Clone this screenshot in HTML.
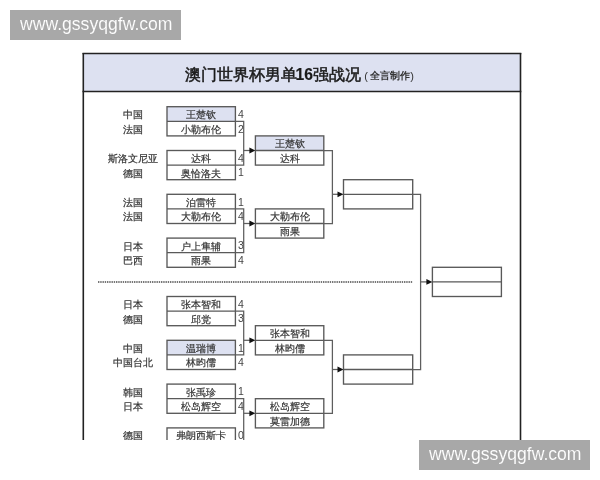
<!DOCTYPE html>
<html><head><meta charset="utf-8">
<style>
html,body{margin:0;padding:0;background:#fff;}
body{width:600px;height:480px;position:relative;overflow:hidden;filter:blur(0.4px);font-family:"Liberation Sans", sans-serif;}
.wm{position:absolute;width:171px;height:30px;background:#a8a8a8;color:#fff;font-size:17.6px;line-height:29px;box-sizing:border-box;padding-left:10px;white-space:nowrap;-webkit-text-stroke:0.1px #a8a8a8;}
svg{position:absolute;left:0;top:0;}
svg text{font-family:"Liberation Sans", sans-serif;}
</style></head>
<body>
<svg width="600" height="480" viewBox="0 0 600 480">
<defs><clipPath id="c"><rect x="0" y="0" width="600" height="440"/></clipPath></defs>
<g clip-path="url(#c)">
<rect x="83.5" y="53.5" width="437" height="38" fill="#dde1f1"/>
<line x1="83.3" y1="53" x2="83.3" y2="440" stroke="#222" stroke-width="1.6"/>
<line x1="520.5" y1="53" x2="520.5" y2="440" stroke="#222" stroke-width="1.6"/>
<line x1="82.5" y1="53.4" x2="521.3" y2="53.4" stroke="#222" stroke-width="1.5"/>
<line x1="82.5" y1="91.5" x2="521.3" y2="91.5" stroke="#222" stroke-width="1.5"/>
<text x="185" y="79.5" font-size="15.6" font-weight="normal" fill="#1a1a1a" stroke="#1a1a1a" stroke-width="0.5">澳门世界杯男单<tspan dx="-1.5" font-size="15.6" stroke-width="0.2" font-weight="bold">16</tspan><tspan dx="0.6">强战况</tspan></text>
<text x="364.3" y="79.6" font-size="11" fill="#333">(</text>
<text x="369.5" y="79.3" font-size="9.8" font-weight="600" fill="#333">全言制作</text>
<text x="410.3" y="79.6" font-size="11" fill="#333">)</text>
<rect x="167.0" y="106.7" width="68.4" height="14.6" fill="#dde1f1"/>
<rect x="167.0" y="106.7" width="68.4" height="29.2" fill="none" stroke="#595959" stroke-width="1.35"/>
<line x1="167.0" y1="121.3" x2="235.4" y2="121.3" stroke="#595959" stroke-width="1.3" />
<text x="201.2" y="118.2" font-size="10.2" text-anchor="middle" fill="#333" stroke="#333" stroke-width="0.2" font-weight="normal">王楚钦</text>
<text x="132.5" y="118.2" font-size="10.2" text-anchor="middle" fill="#333" stroke="#333" stroke-width="0.2" font-weight="normal">中国</text>
<text x="238" y="117.9" font-size="10.5" fill="#444">4</text>
<text x="201.2" y="132.8" font-size="10.2" text-anchor="middle" fill="#333" stroke="#333" stroke-width="0.2" font-weight="normal">小勒布伦</text>
<text x="132.5" y="132.8" font-size="10.2" text-anchor="middle" fill="#333" stroke="#333" stroke-width="0.2" font-weight="normal">法国</text>
<text x="238" y="132.5" font-size="10.5" fill="#444">2</text>
<rect x="167.0" y="150.5" width="68.4" height="29.2" fill="none" stroke="#595959" stroke-width="1.35"/>
<line x1="167.0" y1="165.1" x2="235.4" y2="165.1" stroke="#595959" stroke-width="1.3" />
<text x="201.2" y="162.0" font-size="10.2" text-anchor="middle" fill="#333" stroke="#333" stroke-width="0.2" font-weight="normal">达科</text>
<text x="132.5" y="162.0" font-size="10.2" text-anchor="middle" fill="#333" stroke="#333" stroke-width="0.2" font-weight="normal">斯洛文尼亚</text>
<text x="238" y="161.7" font-size="10.5" fill="#444">4</text>
<text x="201.2" y="176.6" font-size="10.2" text-anchor="middle" fill="#333" stroke="#333" stroke-width="0.2" font-weight="normal">奥恰洛夫</text>
<text x="132.5" y="176.6" font-size="10.2" text-anchor="middle" fill="#333" stroke="#333" stroke-width="0.2" font-weight="normal">德国</text>
<text x="238" y="176.3" font-size="10.5" fill="#444">1</text>
<rect x="167.0" y="194.3" width="68.4" height="29.2" fill="none" stroke="#595959" stroke-width="1.35"/>
<line x1="167.0" y1="208.9" x2="235.4" y2="208.9" stroke="#595959" stroke-width="1.3" />
<text x="201.2" y="205.8" font-size="10.2" text-anchor="middle" fill="#333" stroke="#333" stroke-width="0.2" font-weight="normal">泊雷特</text>
<text x="132.5" y="205.8" font-size="10.2" text-anchor="middle" fill="#333" stroke="#333" stroke-width="0.2" font-weight="normal">法国</text>
<text x="238" y="205.5" font-size="10.5" fill="#444">1</text>
<text x="201.2" y="220.4" font-size="10.2" text-anchor="middle" fill="#333" stroke="#333" stroke-width="0.2" font-weight="normal">大勒布伦</text>
<text x="132.5" y="220.4" font-size="10.2" text-anchor="middle" fill="#333" stroke="#333" stroke-width="0.2" font-weight="normal">法国</text>
<text x="238" y="220.1" font-size="10.5" fill="#444">4</text>
<rect x="167.0" y="238.1" width="68.4" height="29.2" fill="none" stroke="#595959" stroke-width="1.35"/>
<line x1="167.0" y1="252.7" x2="235.4" y2="252.7" stroke="#595959" stroke-width="1.3" />
<text x="201.2" y="249.6" font-size="10.2" text-anchor="middle" fill="#333" stroke="#333" stroke-width="0.2" font-weight="normal">户上隼辅</text>
<text x="132.5" y="249.6" font-size="10.2" text-anchor="middle" fill="#333" stroke="#333" stroke-width="0.2" font-weight="normal">日本</text>
<text x="238" y="249.3" font-size="10.5" fill="#444">3</text>
<text x="201.2" y="264.2" font-size="10.2" text-anchor="middle" fill="#333" stroke="#333" stroke-width="0.2" font-weight="normal">雨果</text>
<text x="132.5" y="264.2" font-size="10.2" text-anchor="middle" fill="#333" stroke="#333" stroke-width="0.2" font-weight="normal">巴西</text>
<text x="238" y="263.9" font-size="10.5" fill="#444">4</text>
<rect x="167.0" y="296.5" width="68.4" height="29.2" fill="none" stroke="#595959" stroke-width="1.35"/>
<line x1="167.0" y1="311.1" x2="235.4" y2="311.1" stroke="#595959" stroke-width="1.3" />
<text x="201.2" y="308.0" font-size="10.2" text-anchor="middle" fill="#333" stroke="#333" stroke-width="0.2" font-weight="normal">张本智和</text>
<text x="132.5" y="308.0" font-size="10.2" text-anchor="middle" fill="#333" stroke="#333" stroke-width="0.2" font-weight="normal">日本</text>
<text x="238" y="307.7" font-size="10.5" fill="#444">4</text>
<text x="201.2" y="322.6" font-size="10.2" text-anchor="middle" fill="#333" stroke="#333" stroke-width="0.2" font-weight="normal">邱党</text>
<text x="132.5" y="322.6" font-size="10.2" text-anchor="middle" fill="#333" stroke="#333" stroke-width="0.2" font-weight="normal">德国</text>
<text x="238" y="322.3" font-size="10.5" fill="#444">3</text>
<rect x="167.0" y="340.3" width="68.4" height="14.6" fill="#dde1f1"/>
<rect x="167.0" y="340.3" width="68.4" height="29.2" fill="none" stroke="#595959" stroke-width="1.35"/>
<line x1="167.0" y1="354.9" x2="235.4" y2="354.9" stroke="#595959" stroke-width="1.3" />
<text x="201.2" y="351.8" font-size="10.2" text-anchor="middle" fill="#333" stroke="#333" stroke-width="0.2" font-weight="normal">温瑞博</text>
<text x="132.5" y="351.8" font-size="10.2" text-anchor="middle" fill="#333" stroke="#333" stroke-width="0.2" font-weight="normal">中国</text>
<text x="238" y="351.5" font-size="10.5" fill="#444">1</text>
<text x="201.2" y="366.4" font-size="10.2" text-anchor="middle" fill="#333" stroke="#333" stroke-width="0.2" font-weight="normal">林昀儒</text>
<text x="132.5" y="366.4" font-size="10.2" text-anchor="middle" fill="#333" stroke="#333" stroke-width="0.2" font-weight="normal">中国台北</text>
<text x="238" y="366.1" font-size="10.5" fill="#444">4</text>
<rect x="167.0" y="384.1" width="68.4" height="29.2" fill="none" stroke="#595959" stroke-width="1.35"/>
<line x1="167.0" y1="398.7" x2="235.4" y2="398.7" stroke="#595959" stroke-width="1.3" />
<text x="201.2" y="395.6" font-size="10.2" text-anchor="middle" fill="#333" stroke="#333" stroke-width="0.2" font-weight="normal">张禹珍</text>
<text x="132.5" y="395.6" font-size="10.2" text-anchor="middle" fill="#333" stroke="#333" stroke-width="0.2" font-weight="normal">韩国</text>
<text x="238" y="395.3" font-size="10.5" fill="#444">1</text>
<text x="201.2" y="410.2" font-size="10.2" text-anchor="middle" fill="#333" stroke="#333" stroke-width="0.2" font-weight="normal">松岛辉空</text>
<text x="132.5" y="410.2" font-size="10.2" text-anchor="middle" fill="#333" stroke="#333" stroke-width="0.2" font-weight="normal">日本</text>
<text x="238" y="409.9" font-size="10.5" fill="#444">4</text>
<rect x="167.0" y="427.9" width="68.4" height="29.2" fill="none" stroke="#595959" stroke-width="1.35"/>
<line x1="167.0" y1="442.5" x2="235.4" y2="442.5" stroke="#595959" stroke-width="1.3" />
<text x="201.2" y="439.4" font-size="10.2" text-anchor="middle" fill="#333" stroke="#333" stroke-width="0.2" font-weight="normal">弗朗西斯卡</text>
<text x="132.5" y="439.4" font-size="10.2" text-anchor="middle" fill="#333" stroke="#333" stroke-width="0.2" font-weight="normal">德国</text>
<text x="238" y="439.1" font-size="10.5" fill="#444">0</text>
<polyline points="235.4,121.3 243.7,121.3 243.7,165.1 235.4,165.1" fill="none" stroke="#5e5e5e" stroke-width="1.25"/>
<polyline points="235.4,208.9 243.7,208.9 243.7,252.7 235.4,252.7" fill="none" stroke="#5e5e5e" stroke-width="1.25"/>
<polyline points="235.4,311.1 243.7,311.1 243.7,354.9 235.4,354.9" fill="none" stroke="#5e5e5e" stroke-width="1.25"/>
<polyline points="235.4,398.7 243.7,398.7 243.7,442.5 235.4,442.5" fill="none" stroke="#5e5e5e" stroke-width="1.25"/>
<rect x="255.4" y="135.9" width="68.4" height="14.6" fill="#dde1f1"/>
<rect x="255.4" y="135.9" width="68.4" height="29.2" fill="none" stroke="#595959" stroke-width="1.35"/>
<line x1="255.4" y1="150.5" x2="323.8" y2="150.5" stroke="#595959" stroke-width="1.3" />
<text x="289.6" y="147.4" font-size="10.2" text-anchor="middle" fill="#333" stroke="#333" stroke-width="0.2" font-weight="normal">王楚钦</text>
<text x="289.6" y="162.0" font-size="10.2" text-anchor="middle" fill="#333" stroke="#333" stroke-width="0.2" font-weight="normal">达科</text>
<line x1="243.7" y1="150.5" x2="251.4" y2="150.5" stroke="#5e5e5e" stroke-width="1.25" />
<path d="M249.4,147.6 L255.4,150.5 L249.4,153.4 Z" fill="#111"/>
<rect x="255.4" y="208.9" width="68.4" height="29.2" fill="none" stroke="#595959" stroke-width="1.35"/>
<line x1="255.4" y1="223.5" x2="323.8" y2="223.5" stroke="#595959" stroke-width="1.3" />
<text x="289.6" y="220.4" font-size="10.2" text-anchor="middle" fill="#333" stroke="#333" stroke-width="0.2" font-weight="normal">大勒布伦</text>
<text x="289.6" y="235.0" font-size="10.2" text-anchor="middle" fill="#333" stroke="#333" stroke-width="0.2" font-weight="normal">雨果</text>
<line x1="243.7" y1="223.5" x2="251.4" y2="223.5" stroke="#5e5e5e" stroke-width="1.25" />
<path d="M249.4,220.6 L255.4,223.5 L249.4,226.4 Z" fill="#111"/>
<rect x="255.4" y="325.7" width="68.4" height="29.2" fill="none" stroke="#595959" stroke-width="1.35"/>
<line x1="255.4" y1="340.3" x2="323.8" y2="340.3" stroke="#595959" stroke-width="1.3" />
<text x="289.6" y="337.2" font-size="10.2" text-anchor="middle" fill="#333" stroke="#333" stroke-width="0.2" font-weight="normal">张本智和</text>
<text x="289.6" y="351.8" font-size="10.2" text-anchor="middle" fill="#333" stroke="#333" stroke-width="0.2" font-weight="normal">林昀儒</text>
<line x1="243.7" y1="340.3" x2="251.4" y2="340.3" stroke="#5e5e5e" stroke-width="1.25" />
<path d="M249.4,337.4 L255.4,340.3 L249.4,343.2 Z" fill="#111"/>
<rect x="255.4" y="398.7" width="68.4" height="29.2" fill="none" stroke="#595959" stroke-width="1.35"/>
<line x1="255.4" y1="413.3" x2="323.8" y2="413.3" stroke="#595959" stroke-width="1.3" />
<text x="289.6" y="410.2" font-size="10.2" text-anchor="middle" fill="#333" stroke="#333" stroke-width="0.2" font-weight="normal">松岛辉空</text>
<text x="289.6" y="424.8" font-size="10.2" text-anchor="middle" fill="#333" stroke="#333" stroke-width="0.2" font-weight="normal">莫雷加德</text>
<line x1="243.7" y1="413.3" x2="251.4" y2="413.3" stroke="#5e5e5e" stroke-width="1.25" />
<path d="M249.4,410.4 L255.4,413.3 L249.4,416.2 Z" fill="#111"/>
<polyline points="323.8,150.5 332.4,150.5 332.4,223.5 323.8,223.5" fill="none" stroke="#5e5e5e" stroke-width="1.25"/>
<polyline points="323.8,340.3 332.4,340.3 332.4,413.3 323.8,413.3" fill="none" stroke="#5e5e5e" stroke-width="1.25"/>
<rect x="343.5" y="179.7" width="69.2" height="29.2" fill="none" stroke="#595959" stroke-width="1.35"/>
<line x1="343.5" y1="194.3" x2="412.7" y2="194.3" stroke="#595959" stroke-width="1.3" />
<line x1="332.4" y1="194.3" x2="339.5" y2="194.3" stroke="#5e5e5e" stroke-width="1.25" />
<path d="M337.5,191.4 L343.5,194.3 L337.5,197.2 Z" fill="#111"/>
<rect x="343.5" y="354.9" width="69.2" height="29.2" fill="none" stroke="#595959" stroke-width="1.35"/>
<line x1="343.5" y1="369.5" x2="412.7" y2="369.5" stroke="#595959" stroke-width="1.3" />
<line x1="332.4" y1="369.5" x2="339.5" y2="369.5" stroke="#5e5e5e" stroke-width="1.25" />
<path d="M337.5,366.6 L343.5,369.5 L337.5,372.4 Z" fill="#111"/>
<polyline points="412.7,194.3 420.6,194.3 420.6,369.5 412.7,369.5" fill="none" stroke="#5e5e5e" stroke-width="1.25"/>
<rect x="432.4" y="267.3" width="69.0" height="29.2" fill="none" stroke="#595959" stroke-width="1.35"/>
<line x1="432.4" y1="281.9" x2="501.4" y2="281.9" stroke="#595959" stroke-width="1.3" />
<line x1="420.6" y1="281.9" x2="428.4" y2="281.9" stroke="#5e5e5e" stroke-width="1.25" />
<path d="M426.4,279.0 L432.4,281.9 L426.4,284.8 Z" fill="#111"/>
<line x1="98" y1="282.1" x2="412.6" y2="282.1" stroke="#4a4a4a" stroke-width="1.5" stroke-dasharray="1.4 0.85"/>
</g>
</svg>
<div class="wm" style="left:10px;top:10px;">www.gssyqgfw.com</div>
<div class="wm" style="left:419px;top:440px;">www.gssyqgfw.com</div>
</body></html>
